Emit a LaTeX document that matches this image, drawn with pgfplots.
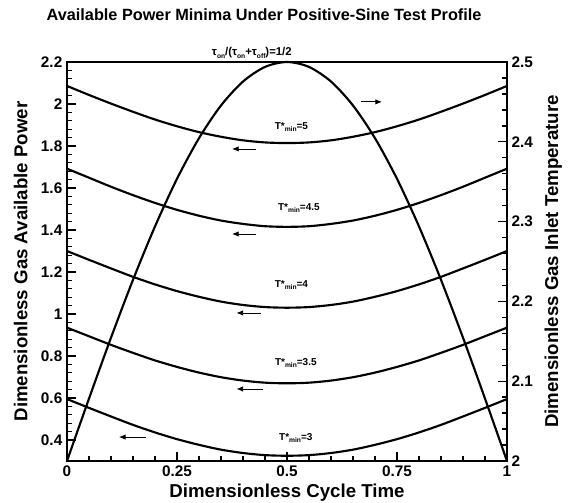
\documentclass[border=0pt]{standalone}
\usepackage{fontspec}
\setmainfont{Liberation Sans}
\usepackage{pgfplots}
\pgfplotsset{compat=1.18}
\usetikzlibrary{arrows.meta}
\begin{document}
\begin{tikzpicture}
\useasboundingbox (-50.25pt,-31.5pt) rectangle (376.5pt,345.75pt);
\pgfplotsset{
  common/.style={
    scale only axis, width=330pt, height=299.25pt,
    xmin=0, xmax=1,
    axis line style={line width=1.3pt},
    tick style={line width=1pt, black},
    major tick length=7pt, minor tick length=3.5pt,
    tick align=inside,
    /pgf/number format/assume math mode=true,
    ticklabel style={font=\fontsize{11.5}{13}\selectfont\bfseries},
    clip=false,
  }
}
\begin{axis}[common, at={(0,0)}, anchor=south west,
  ymin=0.3, ymax=2.2,
  ytick={0.4,0.6,...,2.21}, yticklabels={0.4,0.6,0.8,1,1.2,1.4,1.6,1.8,2,2.2},
  minor y tick num=4,
  xtick={0,0.25,0.5,0.75,1}, xticklabels={0,0.25,0.5,0.75,1},
  minor x tick num=4,
  xtick pos=bottom, ytick pos=left,
  xlabel={Dimensionless Cycle Time},
  ylabel={Dimensionless Gas Available Power},
  every axis x label/.style={at={(axis description cs:0.5,-0.08)},anchor=center,font=\fontsize{14}{16}\selectfont\bfseries},
  every axis y label/.style={at={(axis description cs:-0.105,0.5)},rotate=90,anchor=center,font=\fontsize{14}{16}\selectfont\bfseries},
  title={Available Power Minima Under Positive-Sine Test Profile},
  title style={at={(axis description cs:0.448,1.098)},anchor=center,font=\fontsize{12.2}{14}\selectfont\bfseries},
]
\addplot[black, line width=1.6pt, smooth] coordinates {
(0,2.086)(0.05,2.043)(0.1,2.002)(0.15,1.963)(0.2,1.926)(0.25,1.894)(0.3,1.866)(0.35,1.844)(0.4,1.827)(0.45,1.817)(0.5,1.814)
(0.55,1.817)(0.6,1.827)(0.65,1.844)(0.7,1.866)(0.75,1.894)(0.8,1.926)(0.85,1.963)(0.9,2.002)(0.95,2.043)(1,2.086)};
\addplot[black, line width=1.6pt, smooth] coordinates {
(0,1.692)(0.05,1.649)(0.1,1.606)(0.15,1.566)(0.2,1.529)(0.25,1.496)(0.3,1.468)(0.35,1.445)(0.4,1.429)(0.45,1.418)(0.5,1.415)
(0.55,1.418)(0.6,1.429)(0.65,1.445)(0.7,1.468)(0.75,1.496)(0.8,1.529)(0.85,1.566)(0.9,1.606)(0.95,1.649)(1,1.692)};
\addplot[black, line width=1.6pt, smooth] coordinates {
(0,1.300)(0.05,1.258)(0.1,1.217)(0.15,1.177)(0.2,1.141)(0.25,1.109)(0.3,1.082)(0.35,1.059)(0.4,1.043)(0.45,1.033)(0.5,1.030)
(0.55,1.033)(0.6,1.043)(0.65,1.059)(0.7,1.082)(0.75,1.109)(0.8,1.141)(0.85,1.177)(0.9,1.217)(0.95,1.258)(1,1.300)};
\addplot[black, line width=1.6pt, smooth] coordinates {
(0,0.935)(0.05,0.894)(0.1,0.853)(0.15,0.815)(0.2,0.779)(0.25,0.748)(0.3,0.721)(0.35,0.699)(0.4,0.683)(0.45,0.673)(0.5,0.670)
(0.55,0.673)(0.6,0.683)(0.65,0.699)(0.7,0.721)(0.75,0.748)(0.8,0.779)(0.85,0.815)(0.9,0.853)(0.95,0.894)(1,0.935)};
\addplot[black, line width=1.6pt, smooth] coordinates {
(0,0.595)(0.05,0.553)(0.1,0.512)(0.15,0.472)(0.2,0.436)(0.25,0.404)(0.3,0.377)(0.35,0.354)(0.4,0.338)(0.45,0.328)(0.5,0.325)
(0.55,0.328)(0.6,0.338)(0.65,0.354)(0.7,0.377)(0.75,0.404)(0.8,0.436)(0.85,0.472)(0.9,0.512)(0.95,0.553)(1,0.595)};
% labels
\tikzset{tl/.style={font=\fontsize{7.5}{9}\selectfont\bfseries, inner sep=0pt}}
\node[tl] at (axis cs:0.51,1.89) {T*\raisebox{-0.45ex}{\fontsize{5}{6}\selectfont min}=5};
\node[tl] at (axis cs:0.527,1.505) {T*\raisebox{-0.45ex}{\fontsize{5}{6}\selectfont min}=4.5};
\node[tl] at (axis cs:0.51,1.138) {T*\raisebox{-0.45ex}{\fontsize{5}{6}\selectfont min}=4};
\node[tl] at (axis cs:0.52,0.767) {T*\raisebox{-0.45ex}{\fontsize{5}{6}\selectfont min}=3.5};
\node[tl] at (axis cs:0.52,0.41) {T*\raisebox{-0.45ex}{\fontsize{5}{6}\selectfont min}=3};
\node[tl] at (axis cs:0.42,2.243) {\fontsize{8.5}{9}\selectfont τ\raisebox{-0.4ex}{\fontsize{5}{6}\selectfont on}/(τ\raisebox{-0.4ex}{\fontsize{5}{6}\selectfont on}+τ\raisebox{-0.4ex}{\fontsize{5}{6}\selectfont off})=1/2};
% arrows
\tikzset{arr/.style={-{Latex[length=5pt,width=4pt]}, line width=0.6pt}}
\draw[arr] (axis cs:0.43,1.786) -- (axis cs:0.375,1.786);
\draw[arr] (axis cs:0.43,1.381) -- (axis cs:0.375,1.381);
\draw[arr] (axis cs:0.44,1.005) -- (axis cs:0.385,1.005);
\draw[arr] (axis cs:0.445,0.643) -- (axis cs:0.385,0.643);
\draw[arr] (axis cs:0.18,0.414) -- (axis cs:0.118,0.414);
\draw[arr] (axis cs:0.668,2.01) -- (axis cs:0.716,2.01);
\end{axis}
\begin{axis}[common, at={(0,0)}, anchor=south west,
  ymin=2, ymax=2.5,
  axis x line=none, axis y line*=right,
  ytick={2,2.1,2.2,2.3,2.4,2.5}, yticklabels={2,2.1,2.2,2.3,2.4,2.5},
  minor y tick num=4,
  ylabel={Dimensionless Gas Inlet Temperature},
  every axis y label/.style={at={(axis description cs:1.105,0.5)},rotate=90,anchor=center,font=\fontsize{14}{16}\selectfont\bfseries},
]
\addplot[black, line width=1.6pt, smooth] coordinates {
(0,2)(0.05,2.0782)(0.1,2.1545)(0.15,2.2270)(0.2,2.2939)(0.25,2.3536)(0.3,2.4045)(0.35,2.4455)(0.4,2.4755)(0.45,2.4938)(0.5,2.5)
(0.55,2.4938)(0.6,2.4755)(0.65,2.4455)(0.7,2.4045)(0.75,2.3536)(0.8,2.2939)(0.85,2.2270)(0.9,2.1545)(0.95,2.0782)(1,2)};
\end{axis}
\end{tikzpicture}
\end{document}
